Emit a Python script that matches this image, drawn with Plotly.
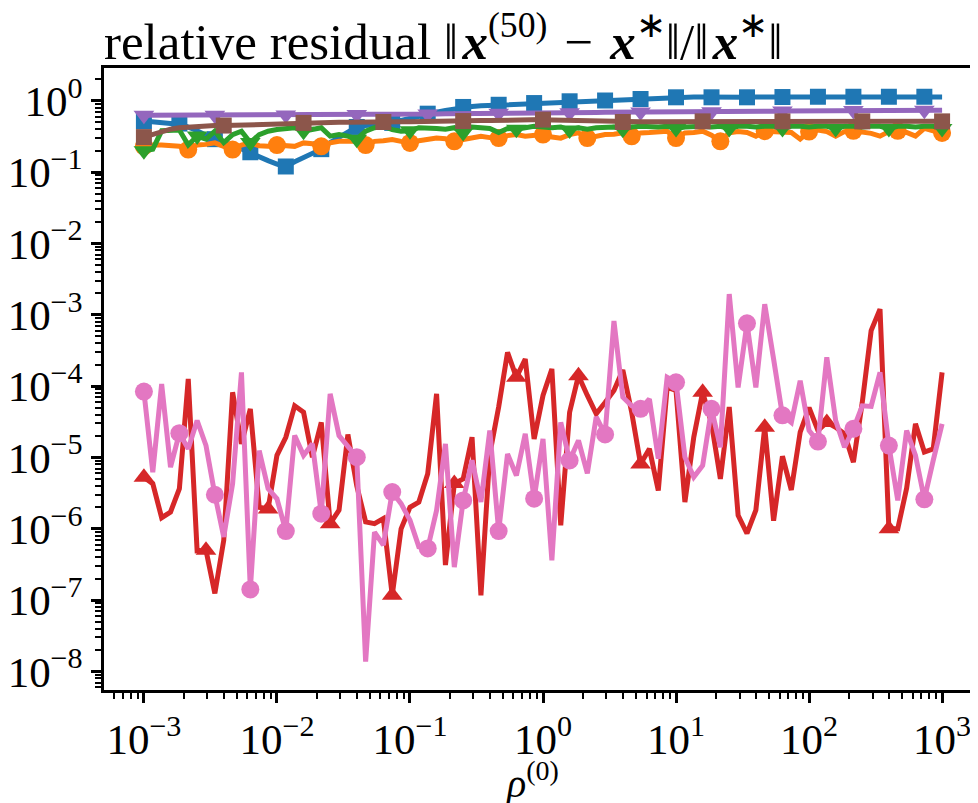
import numpy as np
import plotly.graph_objects as go

# ── Data ──────────────────────────────────────────────────────────────────────
rho = np.logspace(-3, 3, 91)   # rho^(0) grid, 91 points

blue = [0.52, 0.50, 0.49, 0.48, 0.48, 0.43, 0.38, 0.33, 0.29, 0.26,
        0.24, 0.21, 0.19, 0.165, 0.145, 0.13, 0.12, 0.14, 0.16, 0.185,
        0.21, 0.26, 0.31, 0.37, 0.43, 0.45, 0.46, 0.48, 0.49, 0.53,
        0.57, 0.61, 0.66, 0.69, 0.73, 0.77, 0.82, 0.83, 0.85, 0.86,
        0.88, 0.89, 0.91, 0.92, 0.93, 0.945, 0.96, 0.97, 0.985, 0.99,
        1.0, 1.0, 1.01, 1.02, 1.035, 1.05, 1.06, 1.08, 1.09, 1.10,
        1.12, 1.12, 1.13, 1.13, 1.12, 1.13, 1.13, 1.13, 1.12, 1.13,
        1.13, 1.13, 1.13, 1.13, 1.14, 1.14, 1.14, 1.14, 1.14, 1.14,
        1.14, 1.14, 1.14, 1.14, 1.14, 1.14, 1.14, 1.14, 1.14, 1.13,
        1.13]

orange = [0.23, 0.24, 0.24, 0.235, 0.23, 0.207, 0.24, 0.245, 0.257, 0.23,
          0.207, 0.24, 0.257, 0.235, 0.23, 0.24, 0.235, 0.23, 0.257, 0.25,
          0.23, 0.257, 0.27, 0.275, 0.27, 0.24, 0.27, 0.275, 0.287, 0.27,
          0.257, 0.275, 0.287, 0.30, 0.295, 0.27, 0.287, 0.305, 0.318, 0.305,
          0.30, 0.325, 0.336, 0.318, 0.325, 0.336, 0.31, 0.30, 0.336, 0.355,
          0.30, 0.318, 0.336, 0.34, 0.355, 0.318, 0.355, 0.36, 0.375, 0.375,
          0.30, 0.355, 0.36, 0.375, 0.33, 0.27, 0.355, 0.37, 0.36, 0.32,
          0.375, 0.37, 0.375, 0.36, 0.29, 0.37, 0.39, 0.37, 0.32, 0.37,
          0.38, 0.37, 0.35, 0.32, 0.37, 0.38, 0.36, 0.32, 0.41, 0.38,
          0.355]

green = [0.20, 0.21, 0.38, 0.39, 0.39, 0.24, 0.32, 0.29, 0.375, 0.26,
         0.336, 0.375, 0.26, 0.336, 0.375, 0.395, 0.41, 0.42, 0.375, 0.395,
         0.42, 0.32, 0.336, 0.32, 0.29, 0.375, 0.42, 0.44, 0.395, 0.375,
         0.38, 0.42, 0.42, 0.41, 0.40, 0.42, 0.36, 0.43, 0.42, 0.41,
         0.36, 0.41, 0.40, 0.42, 0.44, 0.43, 0.42, 0.43, 0.39, 0.42,
         0.40, 0.42, 0.43, 0.43, 0.40, 0.43, 0.44, 0.43, 0.43, 0.44,
         0.41, 0.43, 0.44, 0.44, 0.43, 0.44, 0.41, 0.44, 0.44, 0.43,
         0.44, 0.44, 0.41, 0.44, 0.44, 0.43, 0.44, 0.44, 0.41, 0.44,
         0.44, 0.43, 0.44, 0.44, 0.41, 0.44, 0.44, 0.43, 0.44, 0.44,
         0.41]

red = [5.3e-6, 4.3e-6, 1.43e-6, 1.72e-6, 3.65e-6, 1.26e-4, 4.9e-7, 5.0e-7, 1.24e-7, 6.9e-7,
       8.2e-5, 1.55e-5, 4.8e-5, 2.0e-6, 1.9e-6, 1.07e-5, 1.92e-5, 5.3e-5, 4.3e-5, 1.01e-5,
       3.1e-5, 1.18e-6, 1.82e-6, 2.1e-5, 4.0e-6, 1.25e-6, 1.18e-6, 1.39e-6, 1.17e-7, 1.0e-6,
       2.0e-6, 2.37e-6, 5.9e-6, 7.8e-5, 3.1e-7, 4.3e-6, 5.0e-6, 1.92e-5, 1.17e-7, 1.12e-5,
       5.1e-5, 2.97e-4, 1.33e-4, 2.4e-4, 1.82e-5, 7.4e-5, 1.74e-4, 1.12e-6, 4.3e-5, 1.40e-4,
       7.4e-5, 4.1e-5, 5.9e-5, 8.7e-5, 1.68e-4, 4.3e-5, 8.1e-6, 1.32e-5, 3.45e-6, 9.6e-5,
       8.7e-5, 2.37e-6, 1.92e-5, 8.2e-5, 3.0e-5, 5.0e-6, 5.1e-5, 1.55e-6, 8.6e-7, 1.82e-6,
       2.65e-5, 1.3e-6, 1.04e-5, 3.5e-6, 2.26e-5, 5.0e-5, 2.39e-5, 3.1e-5, 2.65e-5, 2.14e-5,
       8.6e-6, 5.9e-5, 6.0e-4, 1.2e-3, 1.0e-6, 1.0e-6, 3.7e-6, 2.96e-5, 1.19e-5, 1.32e-5,
       1.56e-4]

purple = [0.63, 0.63, 0.63, 0.63, 0.63, 0.63, 0.63, 0.63, 0.63, 0.63,
          0.63, 0.63, 0.635, 0.635, 0.635, 0.635, 0.635, 0.635, 0.64, 0.64,
          0.64, 0.64, 0.64, 0.64, 0.645, 0.645, 0.645, 0.65, 0.65, 0.65,
          0.65, 0.655, 0.655, 0.655, 0.66, 0.66, 0.66, 0.665, 0.665, 0.665,
          0.67, 0.67, 0.67, 0.675, 0.675, 0.675, 0.68, 0.68, 0.68, 0.685,
          0.685, 0.685, 0.69, 0.69, 0.69, 0.695, 0.695, 0.695, 0.70, 0.70,
          0.70, 0.70, 0.705, 0.705, 0.705, 0.71, 0.71, 0.71, 0.71, 0.715,
          0.715, 0.715, 0.72, 0.72, 0.72, 0.72, 0.725, 0.725, 0.725, 0.725,
          0.73, 0.73, 0.73, 0.73, 0.73, 0.735, 0.735, 0.735, 0.735, 0.735,
          0.74]

brown = [0.31, 0.34, 0.37, 0.40, 0.42, 0.43, 0.44, 0.445, 0.45, 0.45,
         0.455, 0.46, 0.465, 0.47, 0.475, 0.48, 0.485, 0.49, 0.49, 0.495,
         0.495, 0.50, 0.50, 0.50, 0.505, 0.505, 0.505, 0.505, 0.51, 0.51,
         0.51, 0.515, 0.515, 0.515, 0.52, 0.52, 0.52, 0.525, 0.53, 0.53,
         0.535, 0.535, 0.54, 0.54, 0.545, 0.545, 0.54, 0.535, 0.53, 0.525,
         0.52, 0.515, 0.51, 0.51, 0.505, 0.505, 0.51, 0.51, 0.51, 0.51,
         0.515, 0.515, 0.515, 0.515, 0.515, 0.515, 0.515, 0.515, 0.515, 0.515,
         0.515, 0.515, 0.515, 0.515, 0.515, 0.515, 0.515, 0.515, 0.515, 0.515,
         0.515, 0.515, 0.515, 0.515, 0.515, 0.515, 0.515, 0.515, 0.515, 0.515,
         0.515]

pink = [8.4e-5, 6.2e-6, 1.07e-4, 7.3e-6, 2.19e-5, 1.32e-5, 3.3e-5, 1.47e-5, 3.0e-6, 7.7e-7,
        4.3e-6, 1.56e-4, 1.41e-7, 1.25e-5, 3.65e-6, 2.64e-6, 9.3e-7, 2.03e-5, 1.07e-5, 1.55e-5,
        1.63e-6, 7.8e-5, 2.03e-5, 1.47e-5, 1.01e-5, 1.37e-8, 9.0e-7, 5.9e-7, 3.27e-6, 2.25e-6,
        1.32e-6, 5.6e-7, 5.3e-7, 1.82e-6, 1.55e-5, 2.9e-7, 2.5e-6, 9.1e-6, 2.37e-6, 2.39e-5,
        9.3e-7, 1.12e-5, 5.6e-6, 2.14e-5, 2.64e-6, 1.82e-5, 3.6e-7, 3.1e-5, 9.1e-6, 1.73e-5,
        6.0e-6, 3.7e-5, 2.1e-5, 8.2e-4, 7.0e-5, 5.3e-5, 4.8e-5, 6.6e-5, 9.6e-6, 1.33e-4,
        1.13e-4, 1.01e-5, 5.3e-6, 7.7e-6, 4.8e-5, 1.39e-5, 1.95e-3, 9.6e-5, 7.6e-4, 9.6e-5,
        1.41e-3, 2.4e-4, 3.9e-5, 3.1e-5, 1.19e-4, 2.39e-5, 1.67e-5, 2.53e-4, 3.3e-5, 1.39e-5,
        2.52e-5, 5.3e-5, 5.2e-5, 1.56e-4, 1.47e-5, 2.5e-6, 2.39e-5, 1.07e-5, 2.59e-6, 9.1e-6,
        2.96e-5]

x_tick_exp = [-3, -2, -1, 0, 1, 2, 3]
y_tick_exp = [-8, -7, -6, -5, -4, -3, -2, -1, 0]

# (values, colour, symbol, marker size, mark every n-th point)
series = [
    (blue,   '#1f77b4', 'square',        16, 4),
    (orange, '#ff7f0e', 'circle',        18, 5),
    (green,  '#2ca02c', 'triangle-down', 18, 6),
    (red,    '#d62728', 'triangle-up',   18, 7),
    (purple, '#9467bd', 'triangle-down', 18, 8),
    (brown,  '#8c564b', 'square',        16, 9),
    (pink,   '#e377c2', 'circle',        18, 4),
]

FONT = 'Liberation Serif'

# ── Plot ──────────────────────────────────────────────────────────────────────
fig = go.Figure()

for vals, color, symbol, size, every in series:
    sizes = [size if i % every == 0 else 0 for i in range(len(vals))]
    fig.add_trace(go.Scatter(
        x=rho, y=vals, mode='lines+markers',
        line=dict(color=color, width=5),
        marker=dict(symbol=symbol, size=sizes, color=color, opacity=1,
                    line=dict(width=0)),
        showlegend=False,
    ))

def pow_label(e):
    s = str(e).replace('-', '\u2212')
    return f'10<sup>{s}</sup>'

minor_vals = [m * 10.0 ** e for e in range(-9, 4) for m in range(2, 10)]

axis_common = dict(
    type='log', showgrid=False, zeroline=False, automargin=False,
    showline=True, linecolor='black', linewidth=2.5, mirror=True,
    ticks='outside', ticklen=10, tickwidth=2.5, tickcolor='black',
    tickfont=dict(family=FONT, size=43, color='black'),
    minor=dict(tickmode='array', tickvals=minor_vals, ticks='outside',
               ticklen=6, tickwidth=1.6, tickcolor='black'),
)

fig.update_xaxes(
    **axis_common, range=[-3.3, 3.3],
    tickmode='array', tickvals=[10.0 ** e for e in x_tick_exp],
    ticktext=[pow_label(e) for e in x_tick_exp],
)
fig.update_yaxes(
    **axis_common, range=[-8.26, 0.46],
    tickmode='array', tickvals=[10.0 ** e for e in y_tick_exp],
    ticktext=[pow_label(e) for e in y_tick_exp],
)

# the page puts the figure a few px in from the top-left corner; margins allow for it
xb = '<b><i>x</i></b>'
title_text = (f'relative residual \u2016\u200a{xb}<sup>(50)</sup>\u2004\u2212\u2004'
              f'{xb}<sup>\u2217</sup>\u2016/\u2016\u200a{xb}<sup>\u2217</sup>\u2016')
fig.update_layout(
    width=978, height=803, autosize=False,
    margin=dict(l=96, r=4, t=60, b=121),
    plot_bgcolor='white', paper_bgcolor='white',
    font=dict(family=FONT, color='black'),
    title=dict(
        text=title_text,
        font=dict(family=FONT, size=51, color='black'),
        xref='container', x=96 / 978, xanchor='left',
        yref='container', y=1 - 33 / 803, yanchor='middle',
    ),
)

fig.add_annotation(
    text='<i>\u03c1</i><sup>(0)</sup>', showarrow=False,
    xref='paper', yref='paper', x=0.487, y=-0.146,
    xanchor='center', yanchor='middle',
    font=dict(family=FONT, size=40, color='black'),
)

fig.write_html('out.html')
